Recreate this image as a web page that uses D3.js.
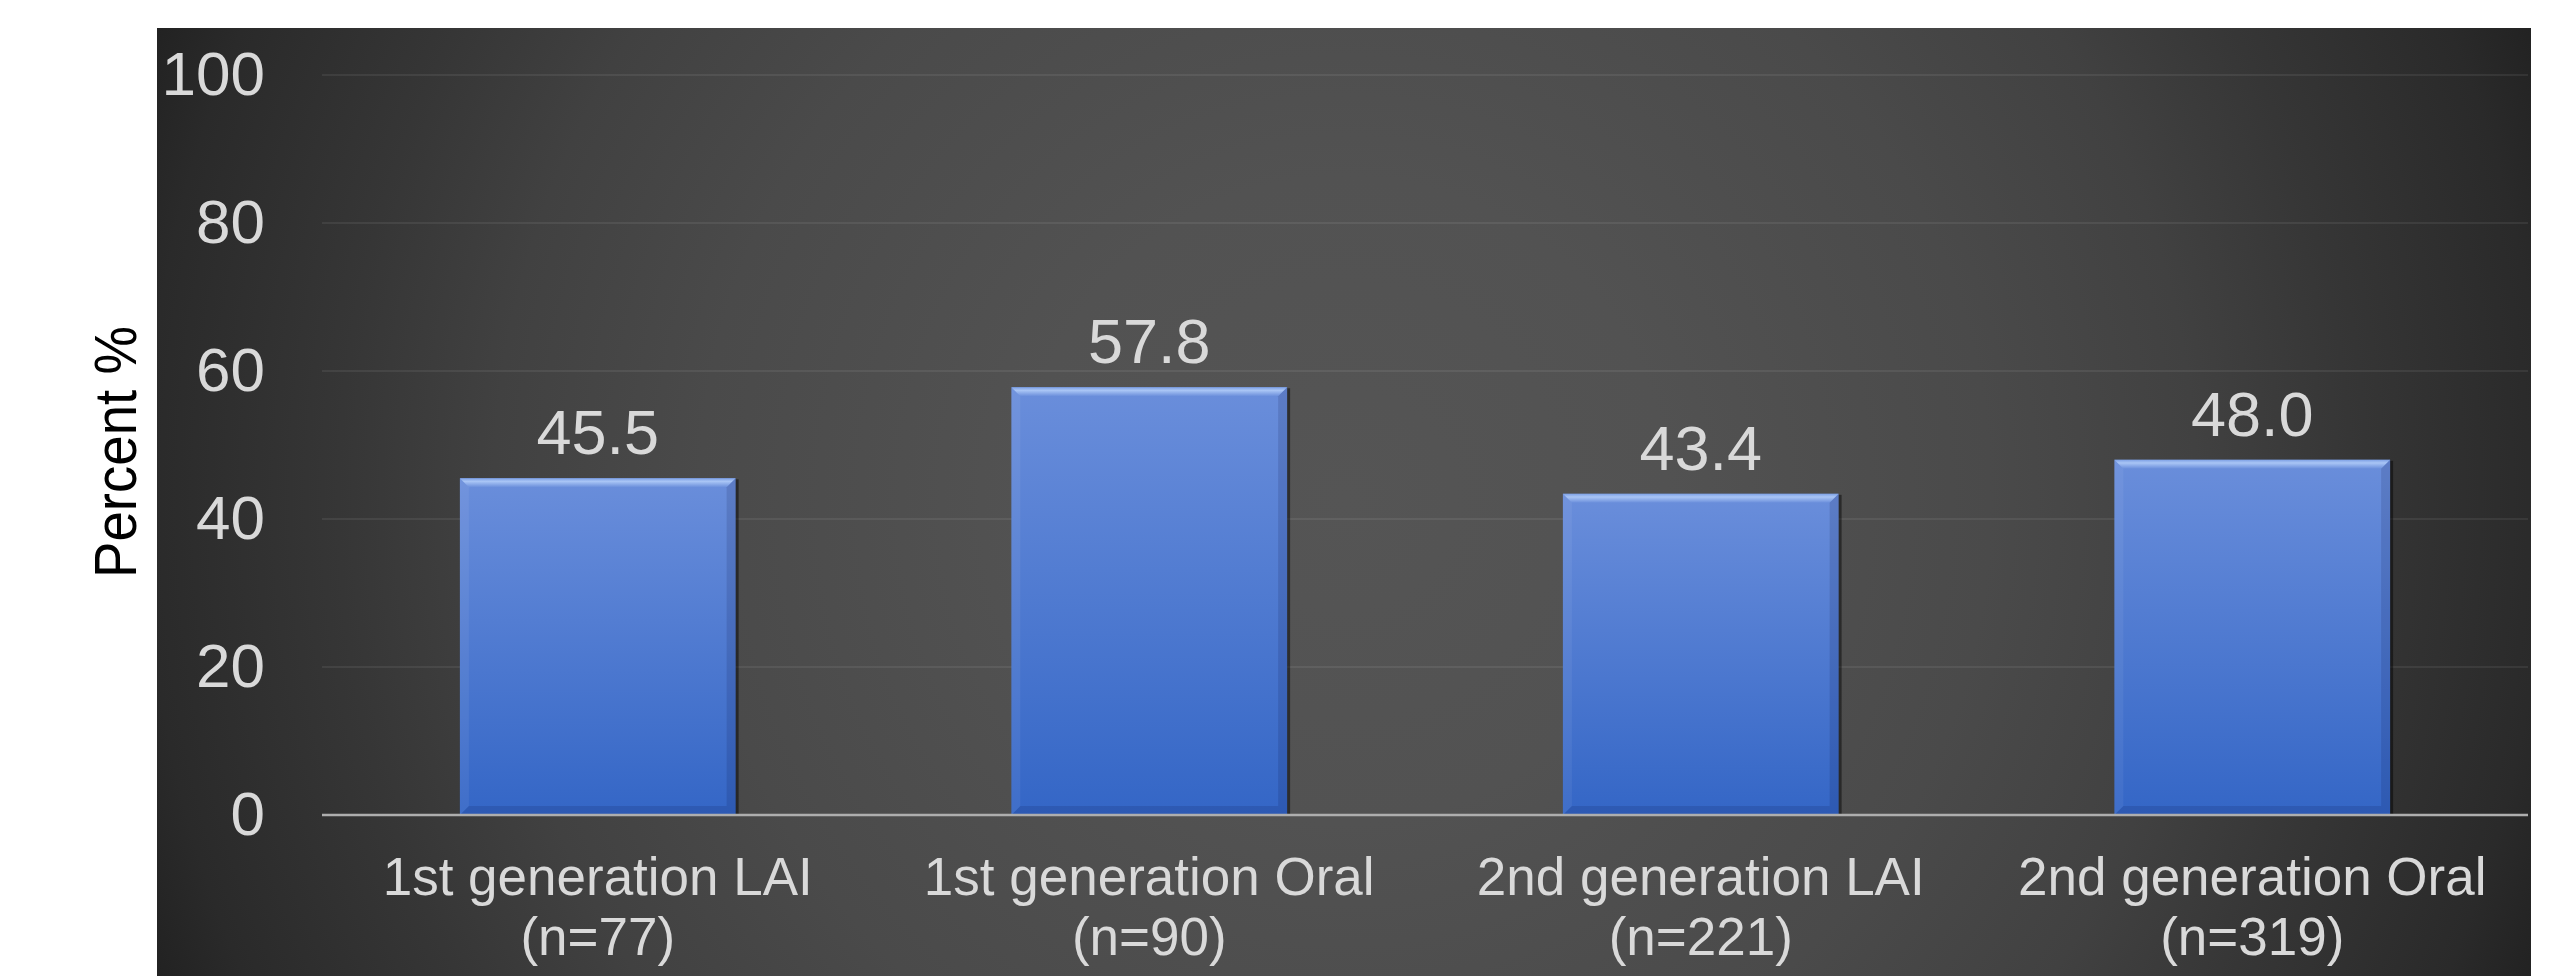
<!DOCTYPE html>
<html>
<head>
<meta charset="utf-8">
<script src="https://cdn.jsdelivr.net/npm/d3@7"></script>
<style>
  html, body { margin: 0; padding: 0; background: #fff; }
  svg { display: block; font-family: "Liberation Sans", Arial, sans-serif; }
</style>
</head>
<body>
<div id="chart"></div>
<script>
// Dades
const categories = ['1st generation LAI', '1st generation Oral', '2nd generation LAI', '2nd generation Oral'];
const sampleSizes = ['(n=77)', '(n=90)', '(n=221)', '(n=319)'];
const percentValues = [45.5, 57.8, 43.4, 48.0];
const yTicks = [0, 20, 40, 60, 80, 100];

const width = 2570;
const height = 976;

// Panell fosc i àrea del gràfic
const panel = { left: 157, top: 28, right: 2531, bottom: 976 };
const plot = { left: 322, right: 2528, top: 75, bottom: 815 };

const svg = d3.select('#chart')
    .append('svg')
    .attr('width', width)
    .attr('height', height);

const defs = svg.append('defs');

// Degradat radial del fons
const bg = defs.append('radialGradient')
    .attr('id', 'bg')
    .attr('gradientUnits', 'userSpaceOnUse')
    .attr('cx', 1345).attr('cy', 500).attr('r', 1290);
[[0, '#555555'], [0.25, '#525252'], [0.5, '#4a4a4a'], [0.66, '#414141'],
 [0.78, '#363636'], [0.93, '#2a2a2a'], [1, '#212121']].forEach(([o, c]) => {
    bg.append('stop').attr('offset', o).attr('stop-color', c);
});

// Degradat de les barres
const barGrad = defs.append('linearGradient')
    .attr('id', 'barGrad')
    .attr('x1', 0).attr('y1', 0).attr('x2', 0).attr('y2', 1);
barGrad.append('stop').attr('offset', 0).attr('stop-color', '#6a8edb');
barGrad.append('stop').attr('offset', 1).attr('stop-color', '#3466c6');

const topGrad = defs.append('linearGradient')
    .attr('id', 'topGrad')
    .attr('x1', 0).attr('y1', 0).attr('x2', 0).attr('y2', 1);
topGrad.append('stop').attr('offset', 0).attr('stop-color', '#7fa2e6');
topGrad.append('stop').attr('offset', 0.35).attr('stop-color', '#a9c5f5');
topGrad.append('stop').attr('offset', 1).attr('stop-color', '#6a8edb');

svg.append('rect')
    .attr('x', panel.left)
    .attr('y', panel.top)
    .attr('width', panel.right - panel.left)
    .attr('height', panel.bottom - panel.top)
    .attr('fill', 'url(#bg)');

// Escales
const x = d3.scaleBand()
    .domain(categories)
    .range([plot.left, plot.right])
    .paddingInner(0.5)
    .paddingOuter(0.25);

const y = d3.scaleLinear()
    .domain([0, 100])
    .range([plot.bottom, plot.top]);

// Línies de graella
svg.append('g')
    .selectAll('line')
    .data(yTicks.filter(d => d > 0))
    .enter()
    .append('line')
    .attr('x1', plot.left)
    .attr('x2', plot.right)
    .attr('y1', d => y(d))
    .attr('y2', d => y(d))
    .attr('stroke', 'rgba(255,255,255,0.07)')
    .attr('stroke-width', 2);

// Eix Y
const yAxis = svg.append('g')
    .attr('transform', `translate(${plot.left},0)`)
    .call(d3.axisLeft(y).tickValues(yTicks).tickSize(0).tickPadding(57));
yAxis.select('.domain').remove();
yAxis.selectAll('text')
    .attr('fill', '#d9d9d9')
    .attr('font-size', 62)
    .attr('font-family', '"Liberation Sans", Arial, sans-serif')
    .attr('dy', '0.32em');

// Barres
const bw = x.bandwidth();
const bev = 9;
const bars = svg.append('g')
    .selectAll('g')
    .data(percentValues)
    .enter()
    .append('g')
    .attr('transform', (d, i) => `translate(${x(categories[i])},${y(d)})`);

// ombra
bars.append('rect')
    .attr('x', 3)
    .attr('y', 1)
    .attr('width', bw)
    .attr('height', d => y(0) - y(d) - 1)
    .attr('fill', 'rgba(0,0,0,0.45)');

bars.append('rect')
    .attr('width', bw)
    .attr('height', d => y(0) - y(d))
    .attr('fill', 'url(#barGrad)');

// bisell superior
bars.append('path')
    .attr('d', `M0,0 L${bw},0 L${bw - bev},${bev} L${bev},${bev} Z`)
    .attr('fill', 'url(#topGrad)');

// bisell esquerre i dret
bars.append('path')
    .attr('d', d => {
        const h = y(0) - y(d);
        return `M0,0 L${bev},${bev} L${bev},${h - bev} L0,${h} Z`;
    })
    .attr('fill', 'rgba(255,255,255,0.06)');

bars.append('path')
    .attr('d', d => {
        const h = y(0) - y(d);
        return `M${bw},0 L${bw - bev},${bev} L${bw - bev},${h - bev} L${bw},${h} Z`;
    })
    .attr('fill', 'rgba(0,0,40,0.12)');

bars.append('path')
    .attr('d', d => {
        const h = y(0) - y(d);
        return `M0,${h} L${bev},${h - bev} L${bw - bev},${h - bev} L${bw},${h} Z`;
    })
    .attr('fill', 'rgba(0,0,40,0.12)');

// Etiquetes de valor
svg.append('g')
    .selectAll('text')
    .data(percentValues)
    .enter()
    .append('text')
    .attr('x', (d, i) => x(categories[i]) + bw / 2)
    .attr('y', d => y(d) - 24)
    .attr('text-anchor', 'middle')
    .attr('fill', '#d9d9d9')
    .attr('font-size', 63)
    .text(d => d.toFixed(1));

// Eix X (línia base)
svg.append('line')
    .attr('x1', plot.left)
    .attr('x2', plot.right)
    .attr('y1', y(0))
    .attr('y2', y(0))
    .attr('stroke', '#aeaeae')
    .attr('stroke-width', 2.5);

// Etiquetes de categoria
const catLabels = svg.append('g')
    .selectAll('text')
    .data(categories)
    .enter()
    .append('text')
    .attr('x', d => x(d) + bw / 2)
    .attr('y', 895)
    .attr('text-anchor', 'middle')
    .attr('fill', '#d9d9d9')
    .attr('font-size', 53);

catLabels.append('tspan')
    .text(d => d);

catLabels.append('tspan')
    .attr('x', d => x(d) + bw / 2)
    .attr('dy', 60)
    .text((d, i) => sampleSizes[i]);

// Títol de l'eix Y
svg.append('text')
    .attr('transform', 'translate(136,452) rotate(-90)')
    .attr('text-anchor', 'middle')
    .attr('fill', '#000')
    .attr('font-size', 60)
    .attr('textLength', 252)
    .attr('lengthAdjust', 'spacingAndGlyphs')
    .text('Percent %');
</script>
</body>
</html>
